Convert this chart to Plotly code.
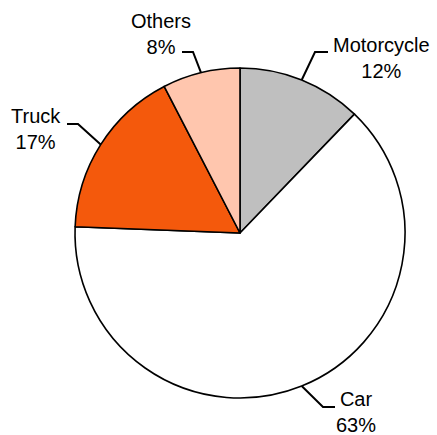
import math
import plotly.graph_objects as go

# ---- data ----
categories = ["Motorcycle", "Car", "Truck", "Others"]
values = [12.2, 63.4, 16.8, 7.6]
colors = ["#bfbfbf", "#ffffff", "#f4590c", "#ffc6ae"]

# ---- layout constants (pixel space of a 437x435 canvas) ----
W, H = 437, 435
CX, CY, R = 240, 233, 165
# label placement: (text centre x, text centre y, elbow x, elbow y, end x)
label_pos = {
    "Motorcycle": (381, 58, 315, 52, 328),
    "Car": (356, 412, 323, 407, 335),
    "Truck": (36, 129, 78, 124, 67),
    "Others": (161, 34, 193, 52, 182),
}

fig = go.Figure()

fig.add_trace(go.Pie(
    labels=categories,
    values=values,
    sort=False,
    direction="clockwise",
    rotation=0,
    marker=dict(colors=colors, line=dict(color="#000000", width=1.6)),
    textinfo="none",
    hoverinfo="label+percent",
    showlegend=False,
    domain=dict(x=[(CX - R) / W, (CX + R) / W],
                y=[(H - CY - R) / H, (H - CY + R) / H]),
))

total = sum(values)
cum = 0.0
annotations = []
for cat, v in zip(categories, values):
    mid = (cum + v / 2) / total * 2 * math.pi
    cum += v
    ex = CX + R * math.sin(mid)
    ey = CY - R * math.cos(mid)
    tx, ty, bx, by, hx = label_pos[cat]
    fig.add_trace(go.Scatter(
        x=[ex, bx, hx], y=[ey, by, by], mode="lines",
        line=dict(color="#000000", width=2), hoverinfo="skip",
        showlegend=False, xaxis="x", yaxis="y",
    ))
    pct = round(v / total * 100)
    annotations.append(dict(
        x=tx, y=ty, xref="x", yref="y", text=f"{cat}<br>{pct}%",
        showarrow=False, xanchor="center", yanchor="middle", align="center",
        font=dict(family="Liberation Sans, Arial, sans-serif", size=20, color="#000000"),
    ))

fig.update_layout(
    width=W, height=H,
    margin=dict(l=0, r=0, t=0, b=0),
    paper_bgcolor="#ffffff", plot_bgcolor="rgba(0,0,0,0)",
    xaxis=dict(range=[0, W], visible=False, fixedrange=True),
    yaxis=dict(range=[H, 0], visible=False, fixedrange=True),
    annotations=annotations,
    showlegend=False,
)

fig.write_html("out.html", config={"displayModeBar": False},
               post_script="document.body.style.margin='0';document.body.style.overflow='hidden';")
